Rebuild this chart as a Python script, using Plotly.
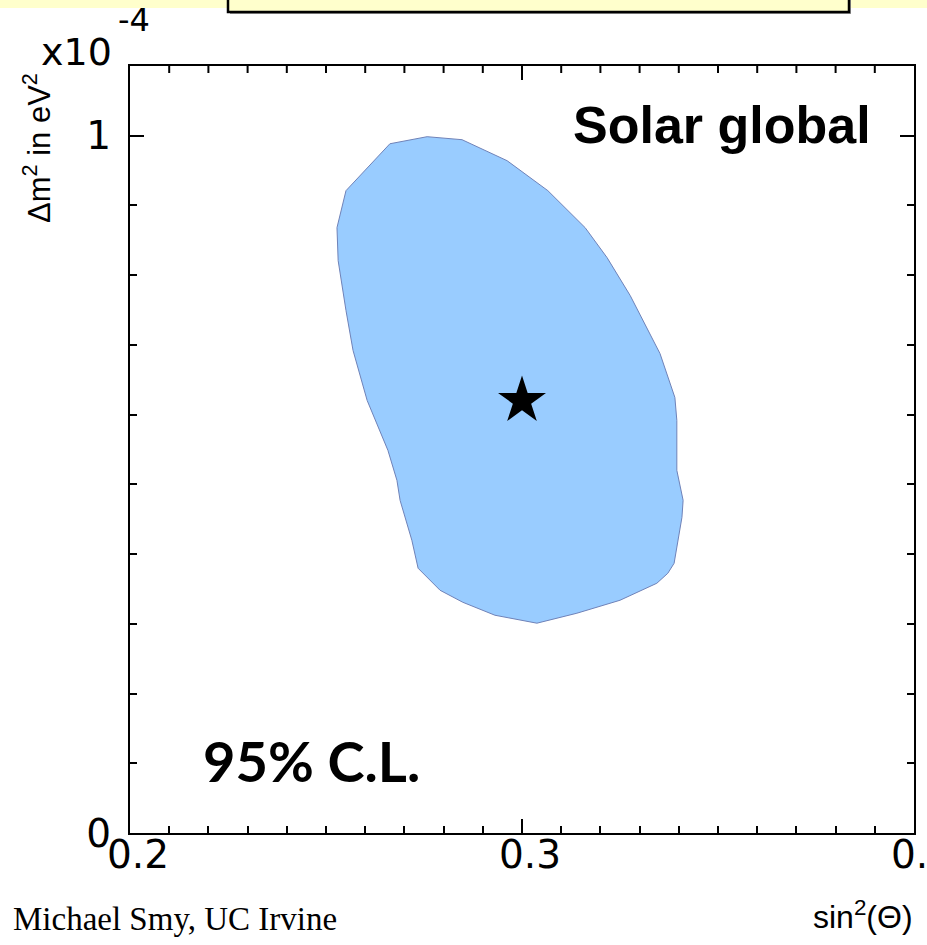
import plotly.graph_objects as go

# 95% C.L. allowed region (solar global fit), traced clockwise
region_sin2 = [0.2663, 0.2758, 0.2847, 0.2962, 0.3066, 0.3161, 0.3217, 0.3276,
               0.3352, 0.3390, 0.3395, 0.3395, 0.3411, 0.3408, 0.3388, 0.3372,
               0.3344, 0.3250, 0.3140, 0.3038, 0.2931, 0.2849, 0.2791, 0.2735,
               0.2719, 0.2689, 0.2681, 0.2658, 0.2605, 0.2569, 0.2551, 0.2531,
               0.2528, 0.2551]
region_dm2 = [0.9885, 0.9986, 0.9943, 0.9642, 0.9212, 0.8682, 0.8252, 0.7708,
              0.6877, 0.6246, 0.5917, 0.5201, 0.4771, 0.4527, 0.3868, 0.3725,
              0.3582, 0.3338, 0.3152, 0.3009, 0.3123, 0.3309, 0.3481, 0.3797,
              0.4198, 0.4771, 0.5057, 0.5487, 0.6203, 0.6920, 0.7493, 0.8209,
              0.8682, 0.9212]

# best-fit point
best_sin2 = [0.30]
best_dm2 = [0.62]

x_range = [0.2, 0.4]
x_ticks = [0.2, 0.3, 0.4]
x_tick_text = ["0.2", "0.3", "0.4"]
x_minor_step = 0.01
y_range = [0, 1.1]
y_ticks = [0, 1]
y_tick_text = ["0", "1"]
y_minor_step = 0.1

W, H = 927, 945
L, R, T, B = 130, 13, 66, 112
PW, PH = W - L - R, H - T - B
MAJOR_LEN, MINOR_LEN, TICK_W = 14, 7, 1.5


def px(x):
    return (x - L) / PW


def py(y):
    return (H - B - y) / PH


fig = go.Figure()

fig.add_trace(go.Scatter(
    x=region_sin2 + region_sin2[:1], y=region_dm2 + region_dm2[:1],
    mode="lines", fill="toself", fillcolor="#99CCFF",
    line=dict(color="#6F82B8", width=1), hoverinfo="skip", showlegend=False,
))
fig.add_trace(go.Scatter(
    x=best_sin2, y=best_dm2, mode="markers",
    marker=dict(symbol="star", size=36, color="black", line=dict(width=0)),
    showlegend=False,
))

# tick marks along the top frame, hanging down into the plot
units_per_px = (y_range[1] - y_range[0]) / PH
top_x, top_y = [], []
n_top = int(round((x_range[1] - x_range[0]) / x_minor_step))
for i in range(1, n_top):
    v = round(x_range[0] + i * x_minor_step, 4)
    length = MAJOR_LEN if any(abs(v - t) < 1e-9 for t in x_ticks) else MINOR_LEN
    top_x += [v, v, None]
    top_y += [y_range[1], y_range[1] - length * units_per_px, None]
fig.add_trace(go.Scatter(
    x=top_x, y=top_y, mode="lines", line=dict(color="black", width=2),
    hoverinfo="skip", showlegend=False, cliponaxis=False,
))

axis_font = dict(family="DejaVu Sans", size=39, color="black")
tick_style = dict(ticks="inside", ticklen=MAJOR_LEN, tickwidth=TICK_W, tickcolor="black")

fig.update_layout(
    xaxis=dict(
        range=x_range, tickvals=x_ticks, ticktext=x_tick_text, **tick_style,
        minor=dict(dtick=x_minor_step, ticks="inside", ticklen=MINOR_LEN,
                   tickwidth=TICK_W, tickcolor="black"),
        showline=True, linecolor="black", linewidth=2, mirror=True,
        showgrid=False, zeroline=False, tickfont=axis_font,
        ticklabelstandoff=-14, ticklabelshift=8, ticklabeloverflow="allow",
        automargin=False,
    ),
    yaxis=dict(
        range=y_range, tickvals=y_ticks, ticktext=y_tick_text, **tick_style,
        minor=dict(dtick=y_minor_step, ticks="inside", ticklen=MINOR_LEN,
                   tickwidth=TICK_W, tickcolor="black"),
        showline=True, linecolor="black", linewidth=2, mirror="ticks",
        showgrid=False, zeroline=False, tickfont=axis_font,
        ticklabelstandoff=9, ticklabeloverflow="allow", automargin=False,
    ),
)

annotations = [
    dict(text="<b>Solar global</b>", x=px(873), y=py(125), xanchor="right", yanchor="middle",
         font=dict(family="Liberation Sans", size=52, color="black")),
    dict(text="<b>95% C.L.</b>", x=px(201), y=py(760), xanchor="left", yanchor="middle",
         font=dict(family="Lato", size=56, color="black")),
    dict(text="\u0394m<sup>2</sup> in eV<sup>2</sup>", x=px(37), y=py(148), textangle=-90,
         xanchor="center", yanchor="middle",
         font=dict(family="Liberation Sans", size=31, color="black")),
    dict(text="x10", x=px(39), y=py(52), xanchor="left", yanchor="middle",
         font=dict(family="DejaVu Sans", size=38, color="black")),
    dict(text="-4", x=px(116), y=py(20), xanchor="left", yanchor="middle",
         font=dict(family="DejaVu Sans", size=32, color="black")),
    dict(text="Michael Smy, UC Irvine", x=px(11), y=py(919), xanchor="left", yanchor="middle",
         font=dict(family="Liberation Serif", size=33, color="black")),
    dict(text="sin<sup>2</sup>(\u0398)", x=px(915), y=py(915), xanchor="right", yanchor="middle",
         font=dict(family="Liberation Sans", size=32, color="black")),
]
for a in annotations:
    a.update(xref="paper", yref="paper", showarrow=False)

shapes = [
    # pale band across the top edge
    dict(type="rect", x0=px(-5), x1=px(W + 5), y0=py(8), y1=py(-10),
         fillcolor="#FFFFCC", line=dict(width=0)),
    # framed box hanging from the top edge (with a soft shadow)
    dict(type="rect", x0=px(230), x1=px(851), y0=py(14), y1=py(-10),
         fillcolor="#9A9A9A", line=dict(width=0)),
    dict(type="rect", x0=px(228), x1=px(849), y0=py(12), y1=py(-10),
         fillcolor="#FFFFCC", line=dict(color="black", width=2.5)),
]
for s in shapes:
    s.update(xref="paper", yref="paper", layer="above")

fig.update_layout(
    width=W, height=H,
    margin=dict(l=L, r=R, t=T, b=B, autoexpand=False),
    paper_bgcolor="white", plot_bgcolor="white",
    annotations=annotations, shapes=shapes,
    showlegend=False,
)

fig.write_html("out.html")
